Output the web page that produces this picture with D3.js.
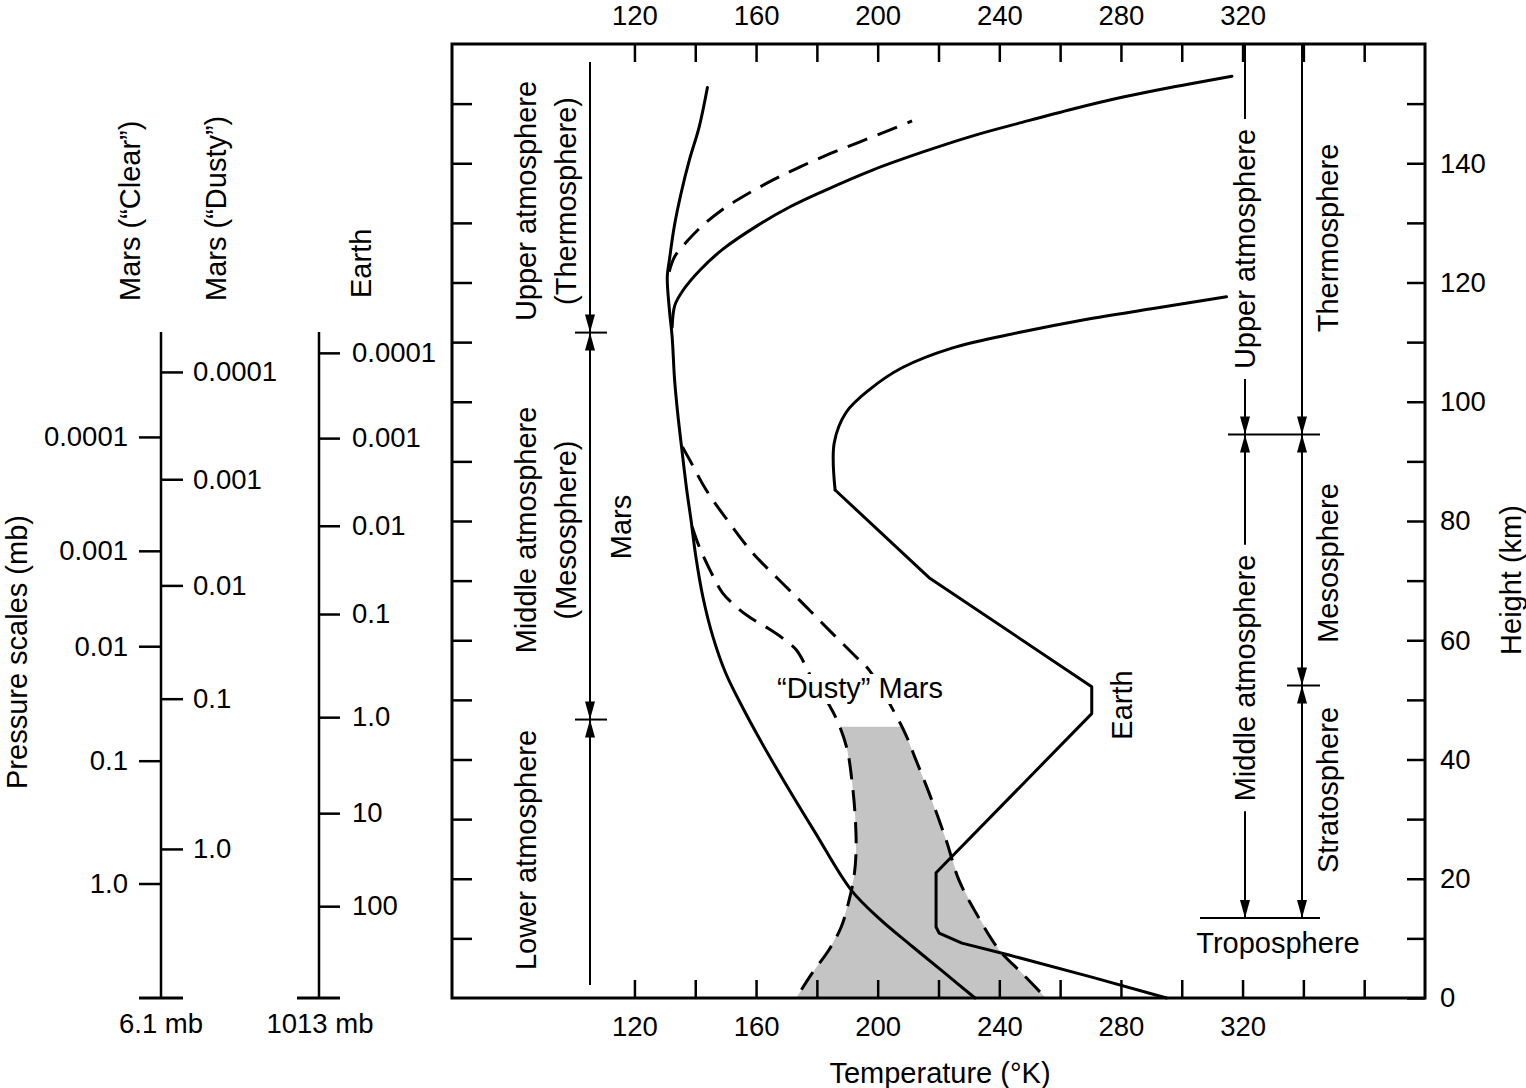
<!DOCTYPE html>
<html><head><meta charset="utf-8">
<script src="https://cdn.jsdelivr.net/npm/d3@7"></script>
<style>
body{margin:0;background:#fff}
svg text{font-family:"Liberation Sans",Arial,Helvetica,sans-serif;fill:#000}
</style></head><body>
<svg id="c" width="1526" height="1088"></svg>
<script>
// ---------------- DATA ----------------
const tempTicks   = [120,140,160,180,200,220,240,260,280,300,320,340,360];
const tempLabels  = [120,160,200,240,280,320];
const heightTicks = [10,20,30,40,50,60,70,80,90,100,110,120,130,140,150];
const heightLabels= [0,20,40,60,80,100,120,140];

// [temperature K, height km]
const earth = [[295,0],[270.4,3.5],[243.2,7.2],[227.7,9.2],[220.2,10.9],[219.2,11.9],[219.2,21],
  [270.4,47.7],[270.4,52.2],[216.9,70.5],[186,85.2],[185.7,93.1],[189.6,98.2],[197.2,102],
  [208,105.7],[224.4,109],[246.4,111.6],[268.4,113.8],[290.1,115.6],[314.7,117.6]];
const marsClear = [[232,0],[222,4.2],[211.5,8.6],[201,13.1],[191.3,18.1],[179.5,27.7],[169.5,36.1],
  [161,43.6],[155.5,48.8],[150,54.5],[145.8,60.6],[142.5,67.3],[140.2,74],[138.6,80.2],[137.2,85.2],
  [135.5,92.4],[134.2,98.2],[133.2,103.7],[132.4,110.9],[131.5,115.4],[130.8,121],[131.5,123.8],
  [133.1,129.4],[135.4,135.1],[138.1,140.6],[141.3,146.1],[144,152.7]];
const marsHighSun = [[132.4,112.5],[133.3,116.2],[136,118.7],[141.6,122.1],[149.1,125.6],[160.3,129.5],
  [171.2,132.7],[182,135.3],[198.5,138.9],[214.9,141.9],[231.3,144.6],[247.8,146.9],[264.2,149.1],
  [280.7,151.1],[297.1,152.8],[316.5,154.6]];
const marsMidSun = [[131.4,121.8],[133.3,124.4],[137.3,126.9],[142.5,129.6],[149.1,132.3],[157,134.8],
  [165.6,137.2],[174.5,139.4],[184.3,141.6],[194.2,143.6],[204.1,145.6],[211.3,147.1]];
const dustyOuter = [[135.8,92.4],[138.1,90.3],[143.6,85.2],[151.2,79.7],[158.8,74.7],[167.6,70.1],
  [176.5,65.6],[185,61.2],[192.9,57.2],[197.2,55],[205.4,48],[209.3,44.1],[212.6,39.9],[216.9,34.4],
  [222.5,26.5],[226.7,19.8],[232.3,14.3],[239.9,8.1],[247.4,4.2],[255.3,0]];
const dustyInner = [[139,79],[141.3,75.7],[145.3,71.3],[148.9,68],[153.5,65.6],[157.8,63.9],[163.3,62.2],
  [168.6,60.4],[173.2,58.4],[176.5,55.5],[178.5,53.4],[184,49.2],[187.3,45.8],[190,41.6],[191.6,36.1],
  [192.6,30.4],[192.9,24.8],[192.2,20.3],[190.6,16.4],[188,11.9],[184,8.1],[178.5,4.2],[173.2,0]];
const dustyShadeTop = 45.5;

// pressure scales: [label, height km]
const pClear = [["0.0001",94.1],["0.001",75],["0.01",59],["0.1",39.8],["1.0",19.2]];
const pDusty = [["0.0001",105],["0.001",87],["0.01",69.2],["0.1",50.2],["1.0",25]];
const pEarth = [["0.0001",108.2],["0.001",93.9],["0.01",79.2],["0.1",64.4],["1.0",47.1],["10",31],["100",15.4]];
const pScaleTop = 111.7;

// layer boundaries (km)
const marsBounds  = [157, 111.6, 46.7, 2.2];
const earthBounds = [160, 94.5, 52.4, 13.4];

// ---------------- DRAW ----------------
const svg = d3.select("#c");
const x = d3.scaleLinear().domain([60,380]).range([452,1425]);
const y = d3.scaleLinear().domain([0,160]).range([998,44]);
const NUM = 27.5, TXT = 29;

const lineSmooth = d3.line().x(d=>x(d[0])).y(d=>y(d[1])).curve(d3.curveCatmullRom.alpha(0.5));
const lineLin = d3.line().x(d=>x(d[0])).y(d=>y(d[1]));

// shading between dusty curves
function interpAt(arr,h){
  for(let i=0;i<arr.length-1;i++){
    const a=arr[i],b=arr[i+1];
    if((a[1]-h)*(b[1]-h)<=0){const t=(h-a[1])/(b[1]-a[1]);return [a[0]+t*(b[0]-a[0]),h];}
  }
}
const poly = [interpAt(dustyInner,dustyShadeTop), ...dustyInner.filter(d=>d[1]<dustyShadeTop),
  ...dustyOuter.filter(d=>d[1]<dustyShadeTop).reverse(), interpAt(dustyOuter,dustyShadeTop)];
svg.append("path").attr("d",d3.line().x(d=>x(d[0])).y(d=>y(d[1])).curve(d3.curveLinearClosed)(poly))
  .attr("fill","#c4c4c4").attr("stroke","none");

// curves (Earth: straight segments below the mesopause, smooth thermosphere)
const curves = [
  {d:earth.slice(0,11), gen:lineLin, dash:null},
  {d:earth.slice(10), gen:lineSmooth, dash:null},
  {d:marsClear, gen:lineSmooth, dash:null},
  {d:marsHighSun, gen:lineSmooth, dash:null},
  {d:marsMidSun, gen:lineSmooth, dash:"21,11"},
  {d:dustyOuter, gen:lineSmooth, dash:"21,11"},
  {d:dustyInner, gen:lineSmooth, dash:"21,11"}
];
curves.forEach(c=>{
  svg.append("path").attr("d",c.gen(c.d)).attr("fill","none").attr("stroke","#000")
    .attr("stroke-width",3).attr("stroke-linejoin","round").attr("stroke-linecap",c.dash?"butt":"round")
    .attr("stroke-dasharray",c.dash);
});

// frame
svg.append("rect").attr("x",x(60)).attr("y",y(160)).attr("width",x(380)-x(60)).attr("height",y(0)-y(160))
  .attr("fill","none").attr("stroke","#000").attr("stroke-width",3);

function styleAxis(g,size){
  g.select(".domain").remove();
  g.selectAll(".tick line").attr("stroke-width",2.5);
  g.selectAll("text").style("font-size",size+"px");
}
svg.append("g").attr("transform",`translate(0,${y(160)})`)
  .call(d3.axisTop(x).tickValues(tempTicks).tickSize(-18).tickPadding(19).tickFormat(d=>tempLabels.includes(d)?d:""))
  .call(g=>styleAxis(g,NUM));
svg.append("g").attr("transform",`translate(0,${y(0)})`)
  .call(d3.axisBottom(x).tickValues(tempTicks).tickSize(-18).tickPadding(18).tickFormat(d=>tempLabels.includes(d)?d:""))
  .call(g=>styleAxis(g,NUM));
svg.append("g").attr("transform",`translate(${x(60)},0)`)
  .call(d3.axisLeft(y).tickValues(heightTicks).tickSize(-20).tickFormat(""))
  .call(g=>styleAxis(g,NUM));
svg.append("g").attr("transform",`translate(${x(380)},0)`)
  .call(d3.axisRight(y).tickValues([0,...heightTicks]).tickSize(-18).tickPadding(15).tickFormat(d=>heightLabels.includes(d)?d:""))
  .call(g=>styleAxis(g,NUM));

// axis titles
svg.append("text").attr("x",940).attr("y",1083).attr("text-anchor","middle").style("font-size",TXT+"px").text("Temperature (°K)");
function rText(txt,bx,cy,anchor,size){
  return svg.append("text").attr("transform",`translate(${bx},${cy}) rotate(-90)`)
    .attr("text-anchor",anchor||"middle").style("font-size",(size||TXT)+"px").text(txt);
}
rText("Height (km)",1521,580);
rText("Pressure scales (mb)",27,652);

// pressure scales
const pxClear=161, pxEarth=319;
function pAxis(axisFn,px,data,size,pad){
  svg.append("g").attr("transform",`translate(${px},0)`)
    .call(axisFn(y).tickValues(data.map(d=>d[1])).tickFormat((d,i)=>data[i][0]).tickSize(size).tickPadding(pad))
    .call(g=>styleAxis(g,NUM));
}
pAxis(d3.axisLeft,pxClear,pClear,22,11);
pAxis(d3.axisRight,pxClear,pDusty,22,10);
pAxis(d3.axisRight,pxEarth,pEarth,21,12);
[[pxClear,139,183],[pxEarth,297,340]].forEach(([px,a,b])=>{
  svg.append("line").attr("x1",px).attr("x2",px).attr("y1",y(pScaleTop)).attr("y2",y(0)).attr("stroke","#000").attr("stroke-width",2.5);
  svg.append("line").attr("x1",a).attr("x2",b).attr("y1",y(0)).attr("y2",y(0)).attr("stroke","#000").attr("stroke-width",3);
});
svg.append("text").attr("x",161).attr("y",1033).attr("text-anchor","middle").style("font-size",NUM+"px").text("6.1 mb");
svg.append("text").attr("x",320).attr("y",1033).attr("text-anchor","middle").style("font-size",NUM+"px").text("1013 mb");
rText("Mars (“Clear”)",140,301,"start");
rText("Mars (“Dusty”)",226,301,"start");
rText("Earth",371,298,"start");

// arrows
function vSeg(px,y1,y2,upHead,downHead){
  svg.append("line").attr("x1",px).attr("x2",px).attr("y1",y1).attr("y2",y2).attr("stroke","#000").attr("stroke-width",2);
  const L=18,W=5;
  if(upHead) svg.append("path").attr("d",`M${px},${y1}L${px-W},${y1+L}L${px+W},${y1+L}Z`).attr("fill","#000");
  if(downHead) svg.append("path").attr("d",`M${px},${y2}L${px-W},${y2-L}L${px+W},${y2-L}Z`).attr("fill","#000");
}
function hLine(a,b,yy){svg.append("line").attr("x1",a).attr("x2",b).attr("y1",yy).attr("y2",yy).attr("stroke","#000").attr("stroke-width",2);}

// Mars regions (left)
const mx=590;
vSeg(mx,y(marsBounds[0]),y(marsBounds[1]),false,true);
vSeg(mx,y(marsBounds[1]),y(marsBounds[2]),true,true);
vSeg(mx,y(marsBounds[2]),y(marsBounds[3]),true,false);
hLine(575,607,y(marsBounds[1])); hLine(575,607,y(marsBounds[2]));
rText("Upper atmosphere",536,201);
rText("(Thermosphere)",576,201);
rText("Middle atmosphere",536,530);
rText("(Mesosphere)",576,530);
rText("Lower atmosphere",536,850);
rText("Mars",631,527);

// Earth regions (right)
const ex1=1245, ex2=1302, gap=10;
function gappedSeg(px,yTop,yBot,label,cy,upHead,downHead){
  const t=rText(label,px+10,cy);
  const half=t.node().getComputedTextLength()/2;
  vSeg(px,yTop,cy-half-gap,upHead,false);
  vSeg(px,cy+half+gap,yBot,false,downHead);
}
gappedSeg(ex1,y(earthBounds[0]),y(earthBounds[1]),"Upper atmosphere",249,false,true);
gappedSeg(ex1,y(earthBounds[1]),y(earthBounds[3]),"Middle atmosphere",678,true,true);
vSeg(ex2,y(earthBounds[0]),y(earthBounds[1]),false,true);
vSeg(ex2,y(earthBounds[1]),y(earthBounds[2]),true,true);
vSeg(ex2,y(earthBounds[2]),y(earthBounds[3]),true,true);
hLine(1228,1320,y(earthBounds[1]));
hLine(1287,1320,y(earthBounds[2]));
hLine(1200,1320,y(earthBounds[3]));
rText("Thermosphere",1338,238);
rText("Mesosphere",1338,563);
rText("Stratosphere",1338,790);
svg.append("text").attr("x",1278).attr("y",953).attr("text-anchor","middle").style("font-size",TXT+"px").text("Troposphere");

// curve labels (dusty label masks the dashed curves behind it)
const dl = svg.append("text").attr("x",860).attr("y",698).attr("text-anchor","middle").style("font-size",TXT+"px").text("“Dusty” Mars");
const bb = dl.node().getBBox();
svg.insert("rect", function(){return dl.node();}).attr("x",bb.x-2).attr("y",bb.y+2).attr("width",bb.width+4).attr("height",bb.height-2).attr("fill","#fff");
rText("Earth",1132,705);
</script></body></html>
